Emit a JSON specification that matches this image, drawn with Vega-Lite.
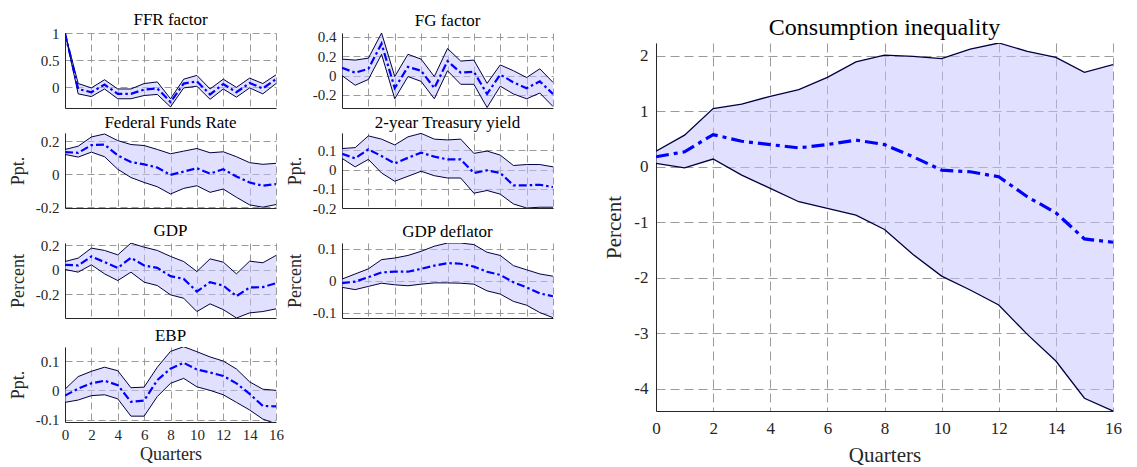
{
  "$schema": "https://vega.github.io/schema/vega-lite/v6.json",
  "padding": {"left": 9, "top": 11, "right": 5, "bottom": 0},
  "datasets": {
    "irf": [
      {"p":"ffrf","q":0,"lo":1,"m":1,"hi":1},
      {"p":"ffrf","q":1,"lo":-0.12,"m":-0.03,"hi":0.07},
      {"p":"ffrf","q":2,"lo":-0.17,"m":-0.09,"hi":-0.01},
      {"p":"ffrf","q":3,"lo":-0.03,"m":0.05,"hi":0.14},
      {"p":"ffrf","q":4,"lo":-0.21,"m":-0.12,"hi":-0.03},
      {"p":"ffrf","q":5,"lo":-0.21,"m":-0.12,"hi":-0.03},
      {"p":"ffrf","q":6,"lo":-0.15,"m":-0.04,"hi":0.07},
      {"p":"ffrf","q":7,"lo":-0.13,"m":-0.02,"hi":0.10},
      {"p":"ffrf","q":8,"lo":-0.36,"m":-0.27,"hi":-0.21},
      {"p":"ffrf","q":9,"lo":-0.01,"m":0.07,"hi":0.15},
      {"p":"ffrf","q":10,"lo":0.02,"m":0.11,"hi":0.22},
      {"p":"ffrf","q":11,"lo":-0.22,"m":-0.13,"hi":-0.03},
      {"p":"ffrf","q":12,"lo":-0.03,"m":0.06,"hi":0.15},
      {"p":"ffrf","q":13,"lo":-0.18,"m":-0.09,"hi":0.00},
      {"p":"ffrf","q":14,"lo":-0.01,"m":0.08,"hi":0.17},
      {"p":"ffrf","q":15,"lo":-0.12,"m":-0.02,"hi":0.07},
      {"p":"ffrf","q":16,"lo":0.07,"m":0.15,"hi":0.23},

      {"p":"fg","q":0,"lo":0.00,"m":0.08,"hi":0.17},
      {"p":"fg","q":1,"lo":-0.10,"m":0.03,"hi":0.16},
      {"p":"fg","q":2,"lo":-0.04,"m":0.07,"hi":0.18},
      {"p":"fg","q":3,"lo":0.22,"m":0.33,"hi":0.44},
      {"p":"fg","q":4,"lo":-0.24,"m":-0.13,"hi":-0.01},
      {"p":"fg","q":5,"lo":-0.01,"m":0.09,"hi":0.22},
      {"p":"fg","q":6,"lo":-0.06,"m":0.05,"hi":0.17},
      {"p":"fg","q":7,"lo":-0.24,"m":-0.13,"hi":-0.01},
      {"p":"fg","q":8,"lo":0.05,"m":0.15,"hi":0.28},
      {"p":"fg","q":9,"lo":-0.09,"m":0.03,"hi":0.15},
      {"p":"fg","q":10,"lo":-0.09,"m":0.04,"hi":0.16},
      {"p":"fg","q":11,"lo":-0.33,"m":-0.19,"hi":-0.08},
      {"p":"fg","q":12,"lo":-0.11,"m":0.01,"hi":0.11},
      {"p":"fg","q":13,"lo":-0.19,"m":-0.07,"hi":0.05},
      {"p":"fg","q":14,"lo":-0.24,"m":-0.13,"hi":-0.02},
      {"p":"fg","q":15,"lo":-0.18,"m":-0.06,"hi":0.07},
      {"p":"fg","q":16,"lo":-0.32,"m":-0.19,"hi":-0.07},

      {"p":"ffr","q":0,"lo":0.12,"m":0.134,"hi":0.15},
      {"p":"ffr","q":1,"lo":0.104,"m":0.13,"hi":0.17},
      {"p":"ffr","q":2,"lo":0.134,"m":0.176,"hi":0.226},
      {"p":"ffr","q":3,"lo":0.106,"m":0.18,"hi":0.244},
      {"p":"ffr","q":4,"lo":0.03,"m":0.114,"hi":0.204},
      {"p":"ffr","q":5,"lo":-0.02,"m":0.074,"hi":0.18},
      {"p":"ffr","q":6,"lo":-0.05,"m":0.06,"hi":0.174},
      {"p":"ffr","q":7,"lo":-0.076,"m":0.04,"hi":0.15},
      {"p":"ffr","q":8,"lo":-0.12,"m":-0.004,"hi":0.124},
      {"p":"ffr","q":9,"lo":-0.086,"m":0.016,"hi":0.14},
      {"p":"ffr","q":10,"lo":-0.07,"m":0.036,"hi":0.156},
      {"p":"ffr","q":11,"lo":-0.11,"m":0.004,"hi":0.13},
      {"p":"ffr","q":12,"lo":-0.09,"m":0.03,"hi":0.136},
      {"p":"ffr","q":13,"lo":-0.14,"m":-0.014,"hi":0.106},
      {"p":"ffr","q":14,"lo":-0.186,"m":-0.05,"hi":0.07},
      {"p":"ffr","q":15,"lo":-0.2,"m":-0.07,"hi":0.06},
      {"p":"ffr","q":16,"lo":-0.184,"m":-0.06,"hi":0.066},

      {"p":"ty","q":0,"lo":0.058,"m":0.082,"hi":0.109},
      {"p":"ty","q":1,"lo":0.014,"m":0.058,"hi":0.114},
      {"p":"ty","q":2,"lo":0.053,"m":0.105,"hi":0.175},
      {"p":"ty","q":3,"lo":-0.018,"m":0.07,"hi":0.158},
      {"p":"ty","q":4,"lo":-0.061,"m":0.032,"hi":0.128},
      {"p":"ty","q":5,"lo":-0.035,"m":0.061,"hi":0.17},
      {"p":"ty","q":6,"lo":-0.009,"m":0.088,"hi":0.188},
      {"p":"ty","q":7,"lo":-0.032,"m":0.067,"hi":0.158},
      {"p":"ty","q":8,"lo":-0.044,"m":0.053,"hi":0.154},
      {"p":"ty","q":9,"lo":-0.044,"m":0.053,"hi":0.158},
      {"p":"ty","q":10,"lo":-0.123,"m":-0.018,"hi":0.084},
      {"p":"ty","q":11,"lo":-0.109,"m":-0.004,"hi":0.096},
      {"p":"ty","q":12,"lo":-0.128,"m":-0.018,"hi":0.075},
      {"p":"ty","q":13,"lo":-0.179,"m":-0.082,"hi":0.021},
      {"p":"ty","q":14,"lo":-0.2,"m":-0.082,"hi":0.026},
      {"p":"ty","q":15,"lo":-0.196,"m":-0.079,"hi":0.026},
      {"p":"ty","q":16,"lo":-0.196,"m":-0.091,"hi":0.014},

      {"p":"gdp","q":0,"lo":0.003,"m":0.041,"hi":0.068},
      {"p":"gdp","q":1,"lo":-0.019,"m":0.036,"hi":0.096},
      {"p":"gdp","q":2,"lo":0.041,"m":0.11,"hi":0.178},
      {"p":"gdp","q":3,"lo":-0.033,"m":0.063,"hi":0.159},
      {"p":"gdp","q":4,"lo":-0.088,"m":0.016,"hi":0.123},
      {"p":"gdp","q":5,"lo":-0.019,"m":0.099,"hi":0.219},
      {"p":"gdp","q":6,"lo":-0.101,"m":0.036,"hi":0.186},
      {"p":"gdp","q":7,"lo":-0.129,"m":0.016,"hi":0.159},
      {"p":"gdp","q":8,"lo":-0.205,"m":-0.052,"hi":0.11},
      {"p":"gdp","q":9,"lo":-0.233,"m":-0.074,"hi":0.068},
      {"p":"gdp","q":10,"lo":-0.342,"m":-0.178,"hi":-0.014},
      {"p":"gdp","q":11,"lo":-0.279,"m":-0.101,"hi":0.09},
      {"p":"gdp","q":12,"lo":-0.326,"m":-0.129,"hi":0.063},
      {"p":"gdp","q":13,"lo":-0.395,"m":-0.216,"hi":-0.033},
      {"p":"gdp","q":14,"lo":-0.353,"m":-0.145,"hi":0.071},
      {"p":"gdp","q":15,"lo":-0.342,"m":-0.142,"hi":0.058},
      {"p":"gdp","q":16,"lo":-0.32,"m":-0.11,"hi":0.118},

      {"p":"defl","q":0,"lo":-0.021,"m":-0.008,"hi":0.005},
      {"p":"defl","q":1,"lo":-0.028,"m":-0.003,"hi":0.021},
      {"p":"defl","q":2,"lo":-0.018,"m":0.011,"hi":0.037},
      {"p":"defl","q":3,"lo":-0.008,"m":0.026,"hi":0.066},
      {"p":"defl","q":4,"lo":-0.013,"m":0.028,"hi":0.071},
      {"p":"defl","q":5,"lo":-0.016,"m":0.028,"hi":0.079},
      {"p":"defl","q":6,"lo":-0.011,"m":0.037,"hi":0.092},
      {"p":"defl","q":7,"lo":-0.007,"m":0.047,"hi":0.108},
      {"p":"defl","q":8,"lo":-0.007,"m":0.055,"hi":0.118},
      {"p":"defl","q":9,"lo":-0.008,"m":0.053,"hi":0.118},
      {"p":"defl","q":10,"lo":-0.011,"m":0.044,"hi":0.113},
      {"p":"defl","q":11,"lo":-0.032,"m":0.028,"hi":0.089},
      {"p":"defl","q":12,"lo":-0.042,"m":0.018,"hi":0.079},
      {"p":"defl","q":13,"lo":-0.065,"m":-0.005,"hi":0.047},
      {"p":"defl","q":14,"lo":-0.077,"m":-0.021,"hi":0.034},
      {"p":"defl","q":15,"lo":-0.1,"m":-0.04,"hi":0.021},
      {"p":"defl","q":16,"lo":-0.116,"m":-0.049,"hi":0.014},

      {"p":"ebp","q":0,"lo":-0.041,"m":-0.018,"hi":0.004},
      {"p":"ebp","q":1,"lo":-0.033,"m":0.006,"hi":0.047},
      {"p":"ebp","q":2,"lo":-0.018,"m":0.024,"hi":0.065},
      {"p":"ebp","q":3,"lo":-0.015,"m":0.033,"hi":0.079},
      {"p":"ebp","q":4,"lo":-0.029,"m":0.018,"hi":0.067},
      {"p":"ebp","q":5,"lo":-0.088,"m":-0.039,"hi":0.009},
      {"p":"ebp","q":6,"lo":-0.088,"m":-0.035,"hi":0.011},
      {"p":"ebp","q":7,"lo":-0.021,"m":0.035,"hi":0.079},
      {"p":"ebp","q":8,"lo":0.024,"m":0.074,"hi":0.133},
      {"p":"ebp","q":9,"lo":0.041,"m":0.094,"hi":0.149},
      {"p":"ebp","q":10,"lo":0.012,"m":0.071,"hi":0.132},
      {"p":"ebp","q":11,"lo":0.0,"m":0.061,"hi":0.114},
      {"p":"ebp","q":12,"lo":-0.015,"m":0.049,"hi":0.1},
      {"p":"ebp","q":13,"lo":-0.041,"m":0.024,"hi":0.073},
      {"p":"ebp","q":14,"lo":-0.067,"m":-0.012,"hi":0.029},
      {"p":"ebp","q":15,"lo":-0.098,"m":-0.053,"hi":0.004},
      {"p":"ebp","q":16,"lo":-0.114,"m":-0.055,"hi":0.0},

      {"p":"ci","q":0,"lo":0.06,"m":0.18,"hi":0.28},
      {"p":"ci","q":1,"lo":-0.02,"m":0.27,"hi":0.57},
      {"p":"ci","q":2,"lo":0.14,"m":0.58,"hi":1.05},
      {"p":"ci","q":3,"lo":-0.15,"m":0.46,"hi":1.13},
      {"p":"ci","q":4,"lo":-0.39,"m":0.40,"hi":1.27},
      {"p":"ci","q":5,"lo":-0.63,"m":0.34,"hi":1.39},
      {"p":"ci","q":6,"lo":-0.75,"m":0.40,"hi":1.61},
      {"p":"ci","q":7,"lo":-0.87,"m":0.48,"hi":1.89},
      {"p":"ci","q":8,"lo":-1.13,"m":0.40,"hi":2.01},
      {"p":"ci","q":9,"lo":-1.58,"m":0.18,"hi":1.99},
      {"p":"ci","q":10,"lo":-1.97,"m":-0.06,"hi":1.95},
      {"p":"ci","q":11,"lo":-2.22,"m":-0.09,"hi":2.12},
      {"p":"ci","q":12,"lo":-2.49,"m":-0.18,"hi":2.23},
      {"p":"ci","q":13,"lo":-3.02,"m":-0.54,"hi":2.08},
      {"p":"ci","q":14,"lo":-3.50,"m":-0.83,"hi":1.97},
      {"p":"ci","q":15,"lo":-4.17,"m":-1.30,"hi":1.70},
      {"p":"ci","q":16,"lo":-4.40,"m":-1.36,"hi":1.84}
    ]
  },
  "hconcat": [
    {
      "columns": 2,
      "spacing": {"row": 6, "column": 2},
      "concat": [
        {
          "title": {"text": "FFR factor", "offset": -3},
          "width": 211, "height": 75,
          "data": {"name": "irf"},
          "transform": [{"filter": {"field": "p", "equal": "ffrf"}}],
          "encoding": {"x": {"field": "q", "type": "quantitative", "scale": {"domain": [0, 16], "nice": false}, "axis": {"values": [0,2,4,6,8,10,12,14,16], "tickCount": 20, "labels": false, "title": null}}},
          "layer": [
            {"mark": {"type": "area", "color": "#c4c4ff", "opacity": 0.5, "clip": true}, "encoding": {"y": {"field": "lo", "type": "quantitative", "scale": {"domain": [-0.38, 1], "nice": false, "zero": false}, "axis": {"values": [0, 0.5, 1], "tickCount": 20, "format": "~g", "labelExpr": "replace(datum.label, '\u2212', '-')", "labelOverlap": false, "title": null}}, "y2": {"field": "hi"}}},
            {"mark": {"type": "rule", "color": "#000000", "strokeWidth": 1}, "encoding": {"y": {"datum": 0}}},
            {"mark": {"type": "line", "color": "#000040", "strokeWidth": 1, "clip": true}, "encoding": {"y": {"field": "lo", "type": "quantitative"}}},
            {"mark": {"type": "line", "color": "#000040", "strokeWidth": 1, "clip": true}, "encoding": {"y": {"field": "hi", "type": "quantitative"}}},
            {"mark": {"type": "line", "color": "#0000ff", "strokeWidth": 2.2, "strokeDash": [8, 3, 2.5, 3], "clip": true}, "encoding": {"y": {"field": "m", "type": "quantitative"}}}
          ]
        },
        {
          "title": {"text": "FG factor", "offset": 0},
          "width": 211, "height": 75,
          "data": {"name": "irf"},
          "transform": [{"filter": {"field": "p", "equal": "fg"}}],
          "encoding": {"x": {"field": "q", "type": "quantitative", "scale": {"domain": [0, 16], "nice": false}, "axis": {"values": [0,2,4,6,8,10,12,14,16], "tickCount": 20, "labels": false, "title": null}}},
          "layer": [
            {"mark": {"type": "area", "color": "#c4c4ff", "opacity": 0.5, "clip": true}, "encoding": {"y": {"field": "lo", "type": "quantitative", "scale": {"domain": [-0.335, 0.44], "nice": false, "zero": false}, "axis": {"values": [-0.2, 0, 0.2, 0.4], "tickCount": 20, "format": "~g", "labelExpr": "replace(datum.label, '\u2212', '-')", "labelOverlap": false, "title": null}}, "y2": {"field": "hi"}}},
            {"mark": {"type": "rule", "color": "#000000", "strokeWidth": 1}, "encoding": {"y": {"datum": 0}}},
            {"mark": {"type": "line", "color": "#000040", "strokeWidth": 1, "clip": true}, "encoding": {"y": {"field": "lo", "type": "quantitative"}}},
            {"mark": {"type": "line", "color": "#000040", "strokeWidth": 1, "clip": true}, "encoding": {"y": {"field": "hi", "type": "quantitative"}}},
            {"mark": {"type": "line", "color": "#0000ff", "strokeWidth": 2.2, "strokeDash": [8, 3, 2.5, 3], "clip": true}, "encoding": {"y": {"field": "m", "type": "quantitative"}}}
          ]
        },
        {
          "title": {"text": "Federal Funds Rate", "offset": 1},
          "width": 211, "height": 75,
          "data": {"name": "irf"},
          "transform": [{"filter": {"field": "p", "equal": "ffr"}}],
          "encoding": {"x": {"field": "q", "type": "quantitative", "scale": {"domain": [0, 16], "nice": false}, "axis": {"values": [0,2,4,6,8,10,12,14,16], "tickCount": 20, "labels": false, "title": null}}},
          "layer": [
            {"mark": {"type": "area", "color": "#c4c4ff", "opacity": 0.5, "clip": true}, "encoding": {"y": {"field": "lo", "type": "quantitative", "scale": {"domain": [-0.205, 0.25], "nice": false, "zero": false}, "axis": {"values": [-0.2, 0, 0.2], "tickCount": 20, "format": "~g", "labelExpr": "replace(datum.label, '\u2212', '-')", "labelOverlap": false, "title": "Ppt."}}, "y2": {"field": "hi"}}},
            {"mark": {"type": "rule", "color": "#000000", "strokeWidth": 1}, "encoding": {"y": {"datum": 0}}},
            {"mark": {"type": "line", "color": "#000040", "strokeWidth": 1, "clip": true}, "encoding": {"y": {"field": "lo", "type": "quantitative"}}},
            {"mark": {"type": "line", "color": "#000040", "strokeWidth": 1, "clip": true}, "encoding": {"y": {"field": "hi", "type": "quantitative"}}},
            {"mark": {"type": "line", "color": "#0000ff", "strokeWidth": 2.2, "strokeDash": [8, 3, 2.5, 3], "clip": true}, "encoding": {"y": {"field": "m", "type": "quantitative"}}}
          ]
        },
        {
          "title": {"text": "2-year Treasury yield", "offset": 1},
          "width": 211, "height": 75,
          "data": {"name": "irf"},
          "transform": [{"filter": {"field": "p", "equal": "ty"}}],
          "encoding": {"x": {"field": "q", "type": "quantitative", "scale": {"domain": [0, 16], "nice": false}, "axis": {"values": [0,2,4,6,8,10,12,14,16], "tickCount": 20, "labels": false, "title": null}}},
          "layer": [
            {"mark": {"type": "area", "color": "#c4c4ff", "opacity": 0.5, "clip": true}, "encoding": {"y": {"field": "lo", "type": "quantitative", "scale": {"domain": [-0.2, 0.19], "nice": false, "zero": false}, "axis": {"values": [-0.2, -0.1, 0, 0.1], "tickCount": 20, "format": "~g", "labelExpr": "replace(datum.label, '\u2212', '-')", "labelOverlap": false, "title": "Ppt."}}, "y2": {"field": "hi"}}},
            {"mark": {"type": "rule", "color": "#000000", "strokeWidth": 1}, "encoding": {"y": {"datum": 0}}},
            {"mark": {"type": "line", "color": "#000040", "strokeWidth": 1, "clip": true}, "encoding": {"y": {"field": "lo", "type": "quantitative"}}},
            {"mark": {"type": "line", "color": "#000040", "strokeWidth": 1, "clip": true}, "encoding": {"y": {"field": "hi", "type": "quantitative"}}},
            {"mark": {"type": "line", "color": "#0000ff", "strokeWidth": 2.2, "strokeDash": [8, 3, 2.5, 3], "clip": true}, "encoding": {"y": {"field": "m", "type": "quantitative"}}}
          ]
        },
        {
          "title": {"text": "GDP", "offset": -2},
          "width": 211, "height": 75,
          "data": {"name": "irf"},
          "transform": [{"filter": {"field": "p", "equal": "gdp"}}],
          "encoding": {"x": {"field": "q", "type": "quantitative", "scale": {"domain": [0, 16], "nice": false}, "axis": {"values": [0,2,4,6,8,10,12,14,16], "tickCount": 20, "labels": false, "title": null}}},
          "layer": [
            {"mark": {"type": "area", "color": "#c4c4ff", "opacity": 0.5, "clip": true}, "encoding": {"y": {"field": "lo", "type": "quantitative", "scale": {"domain": [-0.395, 0.22], "nice": false, "zero": false}, "axis": {"values": [-0.2, 0, 0.2], "tickCount": 20, "format": "~g", "labelExpr": "replace(datum.label, '\u2212', '-')", "labelOverlap": false, "title": "Percent"}}, "y2": {"field": "hi"}}},
            {"mark": {"type": "rule", "color": "#000000", "strokeWidth": 1}, "encoding": {"y": {"datum": 0}}},
            {"mark": {"type": "line", "color": "#000040", "strokeWidth": 1, "clip": true}, "encoding": {"y": {"field": "lo", "type": "quantitative"}}},
            {"mark": {"type": "line", "color": "#000040", "strokeWidth": 1, "clip": true}, "encoding": {"y": {"field": "hi", "type": "quantitative"}}},
            {"mark": {"type": "line", "color": "#0000ff", "strokeWidth": 2.2, "strokeDash": [8, 3, 2.5, 3], "clip": true}, "encoding": {"y": {"field": "m", "type": "quantitative"}}}
          ]
        },
        {
          "title": {"text": "GDP deflator", "offset": 1},
          "width": 211, "height": 75,
          "data": {"name": "irf"},
          "transform": [{"filter": {"field": "p", "equal": "defl"}}],
          "encoding": {"x": {"field": "q", "type": "quantitative", "scale": {"domain": [0, 16], "nice": false}, "axis": {"values": [0,2,4,6,8,10,12,14,16], "tickCount": 20, "labels": false, "title": null}}},
          "layer": [
            {"mark": {"type": "area", "color": "#c4c4ff", "opacity": 0.5, "clip": true}, "encoding": {"y": {"field": "lo", "type": "quantitative", "scale": {"domain": [-0.117, 0.118], "nice": false, "zero": false}, "axis": {"values": [-0.1, 0, 0.1], "tickCount": 20, "format": "~g", "labelExpr": "replace(datum.label, '\u2212', '-')", "labelOverlap": false, "title": "Percent"}}, "y2": {"field": "hi"}}},
            {"mark": {"type": "rule", "color": "#000000", "strokeWidth": 1}, "encoding": {"y": {"datum": 0}}},
            {"mark": {"type": "line", "color": "#000040", "strokeWidth": 1, "clip": true}, "encoding": {"y": {"field": "lo", "type": "quantitative"}}},
            {"mark": {"type": "line", "color": "#000040", "strokeWidth": 1, "clip": true}, "encoding": {"y": {"field": "hi", "type": "quantitative"}}},
            {"mark": {"type": "line", "color": "#0000ff", "strokeWidth": 2.2, "strokeDash": [8, 3, 2.5, 3], "clip": true}, "encoding": {"y": {"field": "m", "type": "quantitative"}}}
          ]
        },
        {
          "title": {"text": "EBP", "offset": 2},
          "width": 211, "height": 75,
          "data": {"name": "irf"},
          "transform": [{"filter": {"field": "p", "equal": "ebp"}}],
          "encoding": {"x": {"field": "q", "type": "quantitative", "scale": {"domain": [0, 16], "nice": false}, "axis": {"values": [0,2,4,6,8,10,12,14,16], "tickCount": 20, "labelFlush": false, "labelOverlap": false, "title": "Quarters", "titlePadding": 3}}},
          "layer": [
            {"mark": {"type": "area", "color": "#c4c4ff", "opacity": 0.5, "clip": true}, "encoding": {"y": {"field": "lo", "type": "quantitative", "scale": {"domain": [-0.108, 0.148], "nice": false, "zero": false}, "axis": {"values": [-0.1, 0, 0.1], "tickCount": 20, "format": "~g", "labelExpr": "replace(datum.label, '\u2212', '-')", "labelOverlap": false, "title": "Ppt."}}, "y2": {"field": "hi"}}},
            {"mark": {"type": "rule", "color": "#000000", "strokeWidth": 1}, "encoding": {"y": {"datum": 0}}},
            {"mark": {"type": "line", "color": "#000040", "strokeWidth": 1, "clip": true}, "encoding": {"y": {"field": "lo", "type": "quantitative"}}},
            {"mark": {"type": "line", "color": "#000040", "strokeWidth": 1, "clip": true}, "encoding": {"y": {"field": "hi", "type": "quantitative"}}},
            {"mark": {"type": "line", "color": "#0000ff", "strokeWidth": 2.2, "strokeDash": [8, 3, 2.5, 3], "clip": true}, "encoding": {"y": {"field": "m", "type": "quantitative"}}}
          ]
        }
      ]
    },
    {
      "spacing": 3,
      "vconcat": [
        {
          "title": {"text": "Consumption inequality", "fontSize": 24, "offset": -7, "frame": "group"},
          "width": 457, "height": 1,
          "data": {"values": [{}]},
          "mark": {"type": "text", "text": "", "fontSize": 0}
        },
        {
          "width": 457, "height": 368,
          "data": {"name": "irf"},
          "transform": [{"filter": {"field": "p", "equal": "ci"}}],
          "encoding": {"x": {"field": "q", "type": "quantitative", "scale": {"domain": [0, 16], "nice": false}, "axis": {"values": [0,2,4,6,8,10,12,14,16], "tickCount": 20, "title": "Quarters", "labelFlush": false, "labelOverlap": false, "labelFontSize": 17, "titleFontSize": 21, "labelPadding": 9, "titlePadding": 8, "gridDash": [9, 5]}}},
          "layer": [
            {"mark": {"type": "area", "color": "#c4c4ff", "opacity": 0.5, "clip": true}, "encoding": {"y": {"field": "lo", "type": "quantitative", "scale": {"domain": [-4.4, 2.23], "nice": false, "zero": false}, "axis": {"values": [-4, -3, -2, -1, 0, 1, 2], "tickCount": 20, "format": "~g", "labelExpr": "replace(datum.label, '\u2212', '-')", "labelOverlap": false, "title": "Percent", "labelFontSize": 17, "titleFontSize": 21, "labelPadding": 8, "titlePadding": 9, "gridDash": [9, 5]}}, "y2": {"field": "hi"}}},
            {"mark": {"type": "rule", "color": "#4d4d4d", "strokeWidth": 1.5}, "encoding": {"y": {"datum": 0}}},
            {"mark": {"type": "line", "color": "#000040", "strokeWidth": 1.3, "clip": true}, "encoding": {"y": {"field": "lo", "type": "quantitative"}}},
            {"mark": {"type": "line", "color": "#000040", "strokeWidth": 1.3, "clip": true}, "encoding": {"y": {"field": "hi", "type": "quantitative"}}},
            {"mark": {"type": "line", "color": "#0000ff", "strokeWidth": 3.2, "strokeDash": [13, 5, 4, 5], "clip": true}, "encoding": {"y": {"field": "m", "type": "quantitative"}}}
          ]
        }
      ]
    }
  ],
  "spacing": 49,
  "config": {
    "font": "Liberation Serif",
    "background": "#ffffff",
    "view": {"stroke": null},
    "title": {"font": "Liberation Serif", "fontSize": 17, "fontWeight": "normal", "color": "#000000", "baseline": "alphabetic"},
    "axis": {
      "grid": true, "gridDash": [7, 4], "gridColor": "#9a9a9a", "gridWidth": 1,
      "domainColor": "#262626", "domainWidth": 1, "ticks": false,
      "labelColor": "#262626", "titleColor": "#262626",
      "labelFont": "Liberation Serif", "titleFont": "Liberation Serif", "titleFontWeight": "normal",
      "labelFlush": false, "labelOverlap": false
    },
    "axisX": {"labelFontSize": 15, "titleFontSize": 18, "labelPadding": 5, "titlePadding": 3},
    "axisY": {"labelFontSize": 15, "titleFontSize": 18, "labelPadding": 6, "titlePadding": 8}
  }
}
